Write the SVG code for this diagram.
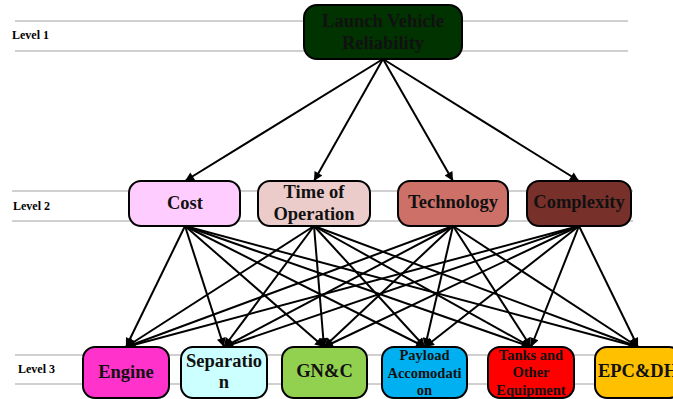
<svg xmlns="http://www.w3.org/2000/svg" width="673" height="399" viewBox="0 0 673 399">
<defs>
<style>
.lvl{stroke:#c0c0c0;stroke-width:1.5;fill:none}
.lab{font-family:"Liberation Serif",serif;font-weight:bold;font-size:12px;fill:#000}
.box{stroke:#000;stroke-width:2}
.t{font-family:"Liberation Serif",serif;font-weight:bold;font-size:18.5px;fill:#111;text-anchor:middle}
.s{font-family:"Liberation Serif",serif;font-weight:bold;font-size:14.5px;fill:#111;text-anchor:middle}
.c{stroke:#000;stroke-width:2;fill:none;marker-end:url(#ah)}
</style>
<marker id="ah" viewBox="0 0 10 10" refX="10" refY="5" markerWidth="11" markerHeight="9" markerUnits="userSpaceOnUse" orient="auto">
<path d="M0,0 L10,5 L0,10 Z" fill="#000"/>
</marker>
</defs>
<rect width="673" height="399" fill="#fff"/>
<g id="levels">
<line class="lvl" x1="15" y1="21" x2="628" y2="21"/>
<line class="lvl" x1="15" y1="51" x2="628" y2="51"/>
<line class="lvl" x1="12" y1="191" x2="633" y2="191"/>
<line class="lvl" x1="12" y1="221" x2="633" y2="221"/>
<line class="lvl" x1="15" y1="355" x2="673" y2="355"/>
<line class="lvl" x1="15" y1="384" x2="673" y2="384"/>
<text class="lab" x="12" y="39">Level 1</text>
<text class="lab" x="13" y="210">Level 2</text>
<text class="lab" x="18" y="373">Level 3</text>
</g>
<g id="connectors">
<path class="c" d="M383,59 L185,181"/>
<path class="c" d="M383,59 L314,181"/>
<path class="c" d="M383,59 L453,181"/>
<path class="c" d="M383,59 L579,181"/>
<path class="c" d="M185,226 L126,347"/>
<path class="c" d="M185,226 L224,347"/>
<path class="c" d="M185,226 L324,347"/>
<path class="c" d="M185,226 L425,347"/>
<path class="c" d="M185,226 L531,347"/>
<path class="c" d="M185,226 L638,347"/>
<path class="c" d="M314,226 L126,347"/>
<path class="c" d="M314,226 L224,347"/>
<path class="c" d="M314,226 L324,347"/>
<path class="c" d="M314,226 L425,347"/>
<path class="c" d="M314,226 L531,347"/>
<path class="c" d="M314,226 L638,347"/>
<path class="c" d="M453,226 L126,347"/>
<path class="c" d="M453,226 L224,347"/>
<path class="c" d="M453,226 L324,347"/>
<path class="c" d="M453,226 L425,347"/>
<path class="c" d="M453,226 L531,347"/>
<path class="c" d="M453,226 L638,347"/>
<path class="c" d="M579,226 L126,347"/>
<path class="c" d="M579,226 L224,347"/>
<path class="c" d="M579,226 L324,347"/>
<path class="c" d="M579,226 L425,347"/>
<path class="c" d="M579,226 L531,347"/>
<path class="c" d="M579,226 L638,347"/>
</g>
<g id="reliability">
<rect class="box" x="304" y="5" width="158" height="54" rx="13" fill="#003300"/>
<text class="t" x="383" y="27">Launch Vehicle</text>
<text class="t" x="383" y="49">Reliability</text>
</g>
<g id="cost">
<rect class="box" x="129" y="181" width="111" height="45" rx="12" fill="#ffccff"/>
<text class="t" x="185" y="209">Cost</text>
</g>
<g id="time">
<rect class="box" x="258" y="181" width="112" height="45" rx="12" fill="#ebcccb"/>
<text class="t" x="314" y="198">Time of</text>
<text class="t" x="314" y="220">Operation</text>
</g>
<g id="technology">
<rect class="box" x="398" y="181" width="110" height="45" rx="12" fill="#cd7068"/>
<text class="t" x="453" y="208">Technology</text>
</g>
<g id="complexity">
<rect class="box" x="527" y="181" width="104" height="45" rx="12" fill="#78302b"/>
<text class="t" x="579" y="208">Complexity</text>
</g>
<g id="engine">
<rect class="box" x="83" y="347" width="86" height="51" rx="12" fill="#ff33cc"/>
<text class="t" x="126" y="378">Engine</text>
</g>
<g id="separation">
<rect class="box" x="181" y="347" width="86" height="51" rx="12" fill="#ccffff"/>
<text class="t" x="224" y="367">Separatio</text>
<text class="t" x="224" y="388">n</text>
</g>
<g id="gnc">
<rect class="box" x="282" y="347" width="85" height="51" rx="12" fill="#92d050"/>
<text class="t" x="324.5" y="377">GN&amp;C</text>
</g>
<g id="payload">
<rect class="box" x="382" y="347" width="85" height="51" rx="12" fill="#00b0f0"/>
<text class="s" x="424.5" y="360">Payload</text>
<text class="s" x="424.5" y="378">Accomodati</text>
<text class="s" x="424.5" y="395">on</text>
</g>
<g id="tanks">
<rect class="box" x="488" y="347" width="86" height="51" rx="12" fill="#ff0000"/>
<text class="s" x="531" y="360">Tanks and</text>
<text class="s" x="531" y="377">Other</text>
<text class="s" x="531" y="395">Equipment</text>
</g>
<g id="epcdh">
<rect class="box" x="595" y="347" width="86" height="51" rx="12" fill="#ffc000"/>
<text class="t" x="638" y="377">EPC&amp;DH</text>
</g>
</svg>
